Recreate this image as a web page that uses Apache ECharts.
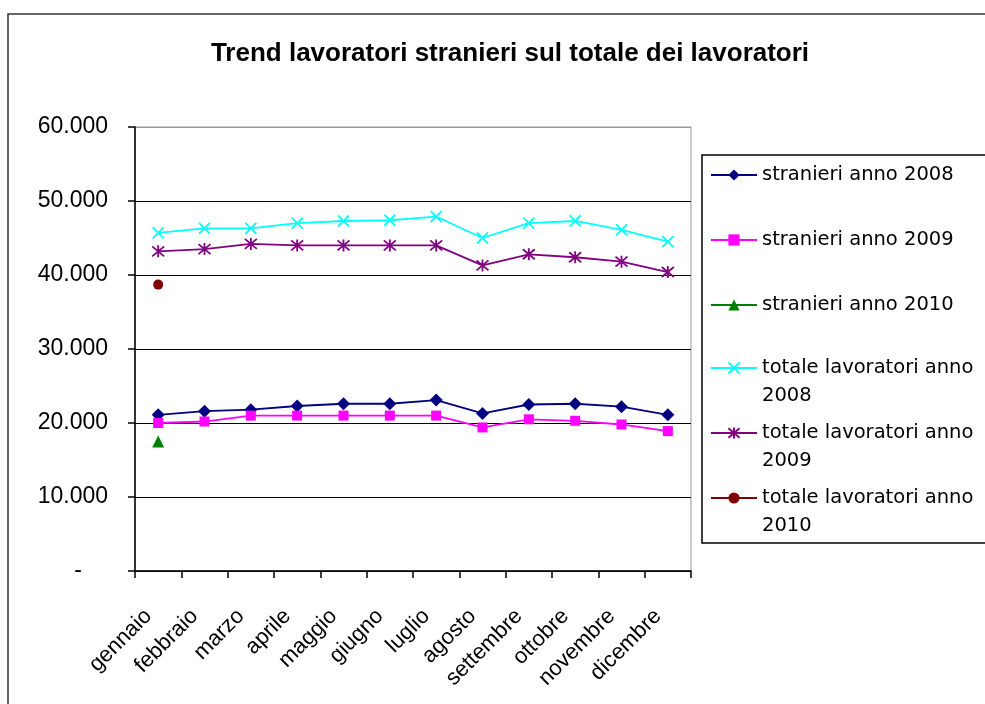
<!DOCTYPE html>
<html>
<head>
<meta charset="utf-8">
<script src="https://cdn.jsdelivr.net/npm/echarts@6/dist/echarts.min.js"></script>
<style>
  html, body { margin: 0; padding: 0; background: #fff; }
  #chart { width: 985px; height: 704px; }
</style>
</head>
<body>
<div id="chart"></div>
<script>
// mesi (asse x)
const mesi = ['gennaio', 'febbraio', 'marzo', 'aprile', 'maggio', 'giugno',
  'luglio', 'agosto', 'settembre', 'ottobre', 'novembre', 'dicembre'];

// valori
const stranieri2008 = [21100, 21600, 21800, 22300, 22600, 22600, 23100, 21300, 22500, 22600, 22200, 21100];
const stranieri2009 = [20000, 20200, 21000, 21000, 21000, 21000, 21000, 19400, 20500, 20300, 19800, 18900];
const stranieri2010 = [17500];
const totale2008 = [45700, 46300, 46300, 47000, 47300, 47400, 47900, 45000, 47000, 47300, 46100, 44500];
const totale2009 = [43200, 43500, 44200, 44000, 44000, 44000, 44000, 41300, 42800, 42400, 41800, 40400];
const totale2010 = [38700];

const yMin = 0, yMax = 60000, yStep = 10000;

const nomi = ['stranieri anno 2008', 'stranieri anno 2009', 'stranieri anno 2010',
  'totale lavoratori anno\n2008', 'totale lavoratori anno\n2009', 'totale lavoratori anno\n2010'];
const colori = ['#000080', '#ff00ff', '#008000', '#00ffff', '#800080', '#800000'];

// simboli a croce / asterisco (solo tratto)
const croce = 'path://M0,0L10,10M10,0L0,10';
const asterisco = 'path://M0,0L10,10M10,0L0,10M5,-1L5,11';

const chart = echarts.init(document.getElementById('chart'));

function serie(i, data, symbol, size, stroke) {
  return {
    name: nomi[i],
    type: 'line',
    data: data,
    symbol: symbol,
    symbolSize: size,
    showAllSymbol: true,
    lineStyle: { color: colori[i], width: 1.8 },
    itemStyle: stroke
      ? { color: 'transparent', borderColor: colori[i], borderWidth: 1.8 }
      : { color: colori[i], borderWidth: 0 },
    emphasis: { disabled: true },
    z: 3
  };
}

// una legenda per voce; per le voci su due righe si aggiunge una riga vuota
// sopra, così il simbolo resta all'altezza della prima riga di testo
const centriLegenda = [175, 240, 305, 368, 433, 498];
const lh = 28;
const legende = nomi.map((n, i) => {
  const dueRighe = n.indexOf('\n') >= 0;
  return {
    data: [n],
    orient: 'vertical',
    left: 710,
    top: dueRighe ? centriLegenda[i] - lh * 1.5 : centriLegenda[i] - lh / 2,
    padding: 0,
    itemWidth: 46,
    itemHeight: 14,
    selectedMode: false,
    formatter: name => dueRighe ? ' \n' + name : name,
    textStyle: {
      fontFamily: 'DejaVu Sans',
      fontSize: 19.5,
      color: '#000',
      lineHeight: lh
    }
  };
});

chart.setOption({
  backgroundColor: '#fff',
  animation: false,
  title: {
    text: 'Trend lavoratori stranieri sul totale dei lavoratori',
    left: 505,
    textAlign: 'center',
    top: 36,
    textStyle: { fontFamily: 'Liberation Sans', fontWeight: 'bold', fontSize: 26, color: '#000' }
  },
  legend: legende,
  grid: {
    left: 135, right: 294, top: 127, bottom: 133,
    show: true, borderColor: '#999', borderWidth: 1
  },
  xAxis: {
    type: 'category',
    data: mesi,
    boundaryGap: true,
    axisLine: { lineStyle: { color: '#000', width: 1.5 } },
    axisTick: { show: true, length: 7, lineStyle: { color: '#000', width: 1.5 } },
    axisLabel: {
      rotate: 45, margin: 32, interval: 0, padding: [0, 14, 0, 0],
      fontFamily: 'Liberation Sans', fontSize: 22, color: '#000'
    },
    splitLine: { show: false }
  },
  yAxis: {
    type: 'value',
    min: yMin, max: yMax, interval: yStep,
    axisLine: { show: true, lineStyle: { color: '#000', width: 1.5 } },
    axisTick: { show: true, length: 7, lineStyle: { color: '#000', width: 1.5 } },
    axisLabel: {
      margin: 27,
      fontFamily: 'Liberation Sans', fontSize: 23, color: '#000',
      formatter: v => v === 0 ? '{d|-}' : (v / 1000).toFixed(3),
      rich: { d: { fontFamily: 'Liberation Sans', fontSize: 23, color: '#000', padding: [0, 26, 0, 0] } }
    },
    splitLine: { show: true, lineStyle: { color: ['#000', '#000', '#000', '#000', '#000', '#000', '#999'], width: 1 } }
  },
  graphic: [
    // cornice della pagina
    { type: 'rect', shape: { x: 8, y: 14, width: 1100, height: 800 },
      style: { fill: 'none', stroke: '#333', lineWidth: 1.5 }, silent: true },
    // riquadro della legenda
    { type: 'rect', shape: { x: 702, y: 155, width: 400, height: 388 },
      style: { fill: 'none', stroke: '#000', lineWidth: 1.5 }, silent: true }
  ],
  series: [
    serie(0, stranieri2008, 'diamond', 13, false),
    serie(1, stranieri2009, 'rect', 10, false),
    serie(2, stranieri2010, 'triangle', 12, false),
    serie(3, totale2008, croce, 11, true),
    serie(4, totale2009, asterisco, 12, true),
    serie(5, totale2010, 'circle', 10, false)
  ]
});
</script>
</body>
</html>
